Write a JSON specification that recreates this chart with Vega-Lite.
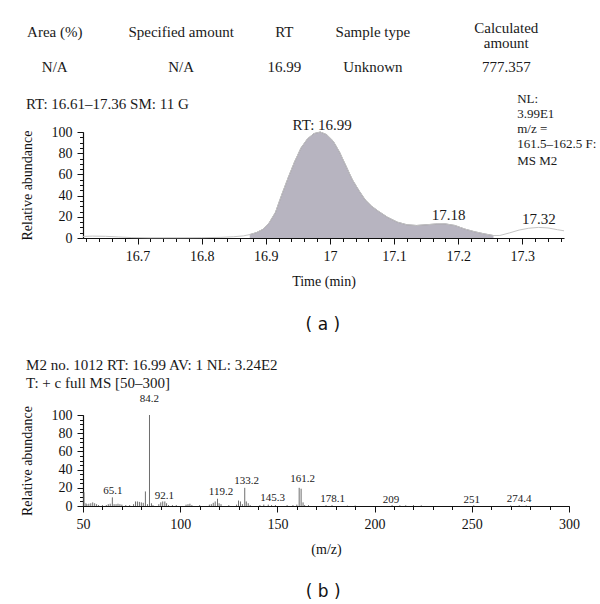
{
  "$schema": "https://vega.github.io/schema/vega-lite/v6.json",
  "padding": {"left": 20, "top": 20, "right": 0, "bottom": 2},
  "background": "white",
  "spacing": 23,
  "config": {
    "view": {"stroke": null},
    "font": "Liberation Serif",
    "axis": {"grid": false, "domainColor": "#111", "tickColor": "#111", "labelColor": "#111", "titleColor": "#111", "labelFont": "Liberation Serif", "titleFont": "Liberation Serif", "labelFontSize": 14, "titleFontSize": 14, "titleFontWeight": "normal", "labelFlush": false, "labelOverlap": false, "domainWidth": 1.2, "tickWidth": 1}
  },
  "datasets": {
    "chrom": [
      {"t": 16.615, "a": 1.5}, {"t": 16.63, "a": 1.8}, {"t": 16.65, "a": 1.6}, {"t": 16.67, "a": 1.0}, {"t": 16.69, "a": 0.4},
      {"t": 16.72, "a": 0.2}, {"t": 16.76, "a": 0.2}, {"t": 16.8, "a": 0.3}, {"t": 16.83, "a": 0.6}, {"t": 16.85, "a": 1.2},
      {"t": 16.865, "a": 2.0}, {"t": 16.875, "a": 3.2}, {"t": 16.885, "a": 5}, {"t": 16.895, "a": 8}, {"t": 16.905, "a": 14},
      {"t": 16.915, "a": 24}, {"t": 16.925, "a": 41}, {"t": 16.935, "a": 57}, {"t": 16.945, "a": 72}, {"t": 16.955, "a": 85},
      {"t": 16.965, "a": 93.5}, {"t": 16.975, "a": 98.5}, {"t": 16.985, "a": 100}, {"t": 16.995, "a": 97.5}, {"t": 17.005, "a": 91.5},
      {"t": 17.015, "a": 81}, {"t": 17.025, "a": 68}, {"t": 17.035, "a": 55}, {"t": 17.045, "a": 45}, {"t": 17.055, "a": 36},
      {"t": 17.065, "a": 30}, {"t": 17.075, "a": 25.5}, {"t": 17.09, "a": 19.5}, {"t": 17.105, "a": 15}, {"t": 17.12, "a": 12.5},
      {"t": 17.135, "a": 11.8}, {"t": 17.15, "a": 12.5}, {"t": 17.165, "a": 13.2}, {"t": 17.18, "a": 13.3}, {"t": 17.195, "a": 11.8},
      {"t": 17.21, "a": 8.5}, {"t": 17.225, "a": 6}, {"t": 17.24, "a": 4}, {"t": 17.255, "a": 2.3}, {"t": 17.265, "a": 2.4},
      {"t": 17.28, "a": 4.8}, {"t": 17.295, "a": 7.5}, {"t": 17.31, "a": 9.2}, {"t": 17.325, "a": 10}, {"t": 17.34, "a": 9.5},
      {"t": 17.355, "a": 7.8}, {"t": 17.365, "a": 6.8}
    ],
    "headA": [
      {"x": 16.571, "y": 194, "text": "Area (%)"},
      {"x": 16.768, "y": 194, "text": "Specified amount"},
      {"x": 16.929, "y": 194, "text": "RT"},
      {"x": 17.067, "y": 194, "text": "Sample type"},
      {"x": 17.275, "y": 198.5, "text": "Calculated"},
      {"x": 17.275, "y": 184, "text": "amount"},
      {"x": 16.571, "y": 161, "text": "N/A"},
      {"x": 16.768, "y": 161, "text": "N/A"},
      {"x": 16.929, "y": 161, "text": "16.99"},
      {"x": 17.067, "y": 161, "text": "Unknown"},
      {"x": 17.275, "y": 161, "text": "777.357"}
    ],
    "peakA": [
      {"x": 16.988, "y": 107, "text": "RT: 16.99"},
      {"x": 17.185, "y": 22, "text": "17.18"},
      {"x": 17.326, "y": 18, "text": "17.32"}
    ],
    "rtA": [
      {"x": 16.526, "y": 126, "text": "RT: 16.61–17.36    SM: 11 G"}
    ],
    "nlA": [
      {"x": 17.292, "y": 131, "text": "NL:"},
      {"x": 17.292, "y": 117, "text": "3.99E1"},
      {"x": 17.292, "y": 103, "text": "m/z ="},
      {"x": 17.292, "y": 89, "text": "161.5–162.5 F:"},
      {"x": 17.292, "y": 73, "text": "MS M2"}
    ],
    "tagA": [{"x": 16.989, "y": -82.4, "text": "( a )"}],
    "spec": [
      {"mz": 50.5, "i": 15}, {"mz": 51.5, "i": 3}, {"mz": 52, "i": 2}, {"mz": 53, "i": 2.5}, {"mz": 54, "i": 3},
      {"mz": 55, "i": 4}, {"mz": 56, "i": 3}, {"mz": 57, "i": 2}, {"mz": 58, "i": 1}, {"mz": 60, "i": 1},
      {"mz": 62, "i": 1}, {"mz": 63, "i": 2}, {"mz": 64, "i": 2.5}, {"mz": 65.1, "i": 9.5}, {"mz": 66, "i": 2},
      {"mz": 67, "i": 2}, {"mz": 68, "i": 2.5}, {"mz": 69, "i": 2}, {"mz": 70, "i": 1.5}, {"mz": 72, "i": 1},
      {"mz": 74, "i": 1}, {"mz": 76, "i": 2}, {"mz": 77, "i": 5}, {"mz": 78, "i": 5}, {"mz": 79, "i": 4.5},
      {"mz": 80, "i": 4}, {"mz": 81, "i": 3.5}, {"mz": 82.1, "i": 16}, {"mz": 83.2, "i": 2}, {"mz": 84.2, "i": 100},
      {"mz": 85.2, "i": 3}, {"mz": 86, "i": 1}, {"mz": 89, "i": 2}, {"mz": 90, "i": 4}, {"mz": 91, "i": 5},
      {"mz": 92.1, "i": 5}, {"mz": 93, "i": 3}, {"mz": 94, "i": 1}, {"mz": 96, "i": 1}, {"mz": 98, "i": 1},
      {"mz": 103, "i": 1.5}, {"mz": 104, "i": 2}, {"mz": 105, "i": 2.5}, {"mz": 106, "i": 1}, {"mz": 110, "i": 1},
      {"mz": 115, "i": 1.5}, {"mz": 116, "i": 2}, {"mz": 117, "i": 3.5}, {"mz": 118, "i": 5}, {"mz": 119.2, "i": 8},
      {"mz": 120, "i": 3}, {"mz": 121, "i": 2}, {"mz": 125, "i": 1}, {"mz": 129, "i": 1.5}, {"mz": 130, "i": 6},
      {"mz": 131, "i": 5}, {"mz": 132, "i": 2}, {"mz": 133.2, "i": 20}, {"mz": 134, "i": 5}, {"mz": 135, "i": 3},
      {"mz": 136, "i": 1}, {"mz": 141, "i": 1}, {"mz": 143, "i": 1.5}, {"mz": 145.3, "i": 1.5}, {"mz": 147, "i": 1},
      {"mz": 149, "i": 1}, {"mz": 155, "i": 1}, {"mz": 158, "i": 1}, {"mz": 160, "i": 1.5}, {"mz": 161.2, "i": 20},
      {"mz": 162.2, "i": 19}, {"mz": 163.2, "i": 4}, {"mz": 164, "i": 1}, {"mz": 166, "i": 1}, {"mz": 175, "i": 1},
      {"mz": 178.1, "i": 1}, {"mz": 186, "i": 0.5}, {"mz": 190, "i": 0.5}, {"mz": 209, "i": 1}, {"mz": 213, "i": 0.8},
      {"mz": 216, "i": 0.8}, {"mz": 220, "i": 1}, {"mz": 224, "i": 0.8}, {"mz": 251, "i": 0.8}, {"mz": 270, "i": 0.6},
      {"mz": 274.4, "i": 1}, {"mz": 278, "i": 0.6}
    ],
    "labB": [
      {"x": 84.1, "y": 118, "text": "84.2"},
      {"x": 65.4, "y": 16.5, "text": "65.1"},
      {"x": 91.8, "y": 11, "text": "92.1"},
      {"x": 121, "y": 15, "text": "119.2"},
      {"x": 134.2, "y": 27.5, "text": "133.2"},
      {"x": 147.6, "y": 9, "text": "145.3"},
      {"x": 163, "y": 29.7, "text": "161.2"},
      {"x": 178.4, "y": 7.7, "text": "178.1"},
      {"x": 208.4, "y": 6.6, "text": "209"},
      {"x": 250, "y": 6.6, "text": "251"},
      {"x": 274.4, "y": 7.7, "text": "274.4"}
    ],
    "titleB": [
      {"x": 20.7, "y": 155, "text": "M2 no. 1012  RT: 16.99  AV: 1  NL: 3.24E2"},
      {"x": 20.7, "y": 135, "text": "T: + c full MS [50–300]"}
    ],
    "tagB": [{"x": 173.5, "y": -94.5, "text": "( b )"}]
  },
  "vconcat": [
    {
      "width": 481,
      "height": 106,
      "layer": [
        {
          "data": {"name": "chrom"},
          "transform": [{"filter": "datum.t >= 16.875 && datum.t <= 17.255"}],
          "mark": {"type": "area", "color": "#b7b4c0", "opacity": 1, "line": {"color": "#7d7986", "strokeWidth": 0.8}},
          "encoding": {
            "x": {"field": "t", "type": "quantitative", "scale": {"domain": [16.615, 17.365], "nice": false, "zero": false},
                  "axis": {"values": [16.7, 16.8, 16.9, 17, 17.1, 17.2, 17.3], "format": "~g", "title": "Time (min)", "orient": "bottom", "tickSize": 6, "labelPadding": 5, "titlePadding": 11}},
            "y": {"field": "a", "type": "quantitative", "scale": {"domain": [0, 100], "nice": false},
                  "axis": {"values": [0, 20, 40, 60, 80, 100], "title": "Relative abundance", "orient": "left", "tickSize": 6, "labelPadding": 5, "titlePadding": 17}}
          }
        },
        {
          "data": {"name": "chrom"},
          "mark": {"type": "line", "color": "#c4c4c4", "strokeWidth": 1},
          "encoding": {
            "x": {"field": "t", "type": "quantitative", "scale": {"domain": [16.615, 17.365], "nice": false, "zero": false},
                  "axis": {"values": [16.62, 16.64, 16.66, 16.68, 16.7, 16.72, 16.74, 16.76, 16.78, 16.8, 16.82, 16.84, 16.86, 16.88, 16.9, 16.92, 16.94, 16.96, 16.98, 17, 17.02, 17.04, 17.06, 17.08, 17.1, 17.12, 17.14, 17.16, 17.18, 17.2, 17.22, 17.24, 17.26, 17.28, 17.3, 17.32, 17.34, 17.36], "labels": false, "domain": false, "title": null, "orient": "bottom", "tickSize": 3.5}},
            "y": {"field": "a", "type": "quantitative", "scale": {"domain": [0, 100], "nice": false},
                  "axis": {"values": [0, 5, 10, 15, 20, 25, 30, 35, 40, 45, 50, 55, 60, 65, 70, 75, 80, 85, 90, 95, 100], "labels": false, "domain": false, "title": null, "orient": "left", "tickSize": 3.5}}
          }
        },
        {
          "data": {"name": "headA"},
          "mark": {"type": "text", "font": "Liberation Serif", "fontSize": 15, "align": "center", "baseline": "middle", "color": "#1a1a1a"},
          "encoding": {
            "x": {"field": "x", "type": "quantitative", "scale": {"domain": [16.615, 17.365], "nice": false, "zero": false}, "axis": null},
            "y": {"field": "y", "type": "quantitative", "scale": {"domain": [0, 100], "nice": false}, "axis": null},
            "text": {"field": "text"}
          }
        },
        {
          "data": {"name": "peakA"},
          "mark": {"type": "text", "font": "Liberation Serif", "fontSize": 15, "align": "center", "baseline": "middle", "color": "#1a1a1a"},
          "encoding": {
            "x": {"field": "x", "type": "quantitative", "scale": {"domain": [16.615, 17.365], "nice": false, "zero": false}, "axis": null},
            "y": {"field": "y", "type": "quantitative", "scale": {"domain": [0, 100], "nice": false}, "axis": null},
            "text": {"field": "text"}
          }
        },
        {
          "data": {"name": "rtA"},
          "mark": {"type": "text", "font": "Liberation Serif", "fontSize": 15, "align": "left", "baseline": "middle", "color": "#1a1a1a"},
          "encoding": {
            "x": {"field": "x", "type": "quantitative", "scale": {"domain": [16.615, 17.365], "nice": false, "zero": false}, "axis": null},
            "y": {"field": "y", "type": "quantitative", "scale": {"domain": [0, 100], "nice": false}, "axis": null},
            "text": {"field": "text"}
          }
        },
        {
          "data": {"name": "nlA"},
          "mark": {"type": "text", "font": "Liberation Serif", "fontSize": 13, "align": "left", "baseline": "middle", "color": "#1a1a1a"},
          "encoding": {
            "x": {"field": "x", "type": "quantitative", "scale": {"domain": [16.615, 17.365], "nice": false, "zero": false}, "axis": null},
            "y": {"field": "y", "type": "quantitative", "scale": {"domain": [0, 100], "nice": false}, "axis": null},
            "text": {"field": "text"}
          }
        },
        {
          "data": {"name": "tagA"},
          "mark": {"type": "text", "font": "DejaVu Sans", "fontSize": 17, "align": "center", "baseline": "middle", "color": "#111"},
          "encoding": {
            "x": {"field": "x", "type": "quantitative", "scale": {"domain": [16.615, 17.365], "nice": false, "zero": false}, "axis": null},
            "y": {"field": "y", "type": "quantitative", "scale": {"domain": [0, 100], "nice": false}, "axis": null},
            "text": {"field": "text"}
          }
        }
      ],
      "resolve": {"axis": {"x": "independent", "y": "independent"}}
    },
    {
      "width": 486,
      "height": 91,
      "layer": [
        {
          "data": {"name": "spec"},
          "mark": {"type": "rule", "color": "#6e6e6e", "strokeWidth": 1},
          "encoding": {
            "x": {"field": "mz", "type": "quantitative", "scale": {"domain": [50, 300], "nice": false, "zero": false},
                  "axis": {"values": [50, 100, 150, 200, 250, 300], "title": "(m/z)", "orient": "bottom", "tickSize": 6, "labelPadding": 5, "titlePadding": 11}},
            "y": {"field": "i", "type": "quantitative", "scale": {"domain": [0, 100], "nice": false},
                  "axis": {"values": [0, 20, 40, 60, 80, 100], "title": "Relative abundance", "orient": "left", "tickSize": 6, "labelPadding": 5, "titlePadding": 17}},
            "y2": {"datum": 0}
          }
        },
        {
          "data": {"name": "labB"},
          "mark": {"type": "text", "font": "Liberation Serif", "fontSize": 11, "align": "center", "baseline": "middle", "color": "#1a1a1a"},
          "encoding": {
            "x": {"field": "x", "type": "quantitative", "scale": {"domain": [50, 300], "nice": false, "zero": false},
                  "axis": {"values": [50, 60, 70, 80, 90, 100, 110, 120, 130, 140, 150, 160, 170, 180, 190, 200, 210, 220, 230, 240, 250, 260, 270, 280, 290, 300], "labels": false, "domain": false, "title": null, "orient": "bottom", "tickSize": 3.5}},
            "y": {"field": "y", "type": "quantitative", "scale": {"domain": [0, 100], "nice": false},
                  "axis": {"values": [0, 5, 10, 15, 20, 25, 30, 35, 40, 45, 50, 55, 60, 65, 70, 75, 80, 85, 90, 95, 100], "labels": false, "domain": false, "title": null, "orient": "left", "tickSize": 3.5}},
            "text": {"field": "text"}
          }
        },
        {
          "data": {"name": "titleB"},
          "mark": {"type": "text", "font": "Liberation Serif", "fontSize": 15, "align": "left", "baseline": "middle", "color": "#1a1a1a"},
          "encoding": {
            "x": {"field": "x", "type": "quantitative", "scale": {"domain": [50, 300], "nice": false, "zero": false}, "axis": null},
            "y": {"field": "y", "type": "quantitative", "scale": {"domain": [0, 100], "nice": false}, "axis": null},
            "text": {"field": "text"}
          }
        },
        {
          "data": {"name": "tagB"},
          "mark": {"type": "text", "font": "DejaVu Sans", "fontSize": 17, "align": "center", "baseline": "middle", "color": "#111"},
          "encoding": {
            "x": {"field": "x", "type": "quantitative", "scale": {"domain": [50, 300], "nice": false, "zero": false}, "axis": null},
            "y": {"field": "y", "type": "quantitative", "scale": {"domain": [0, 100], "nice": false}, "axis": null},
            "text": {"field": "text"}
          }
        }
      ],
      "resolve": {"axis": {"x": "independent", "y": "independent"}}
    }
  ]
}
